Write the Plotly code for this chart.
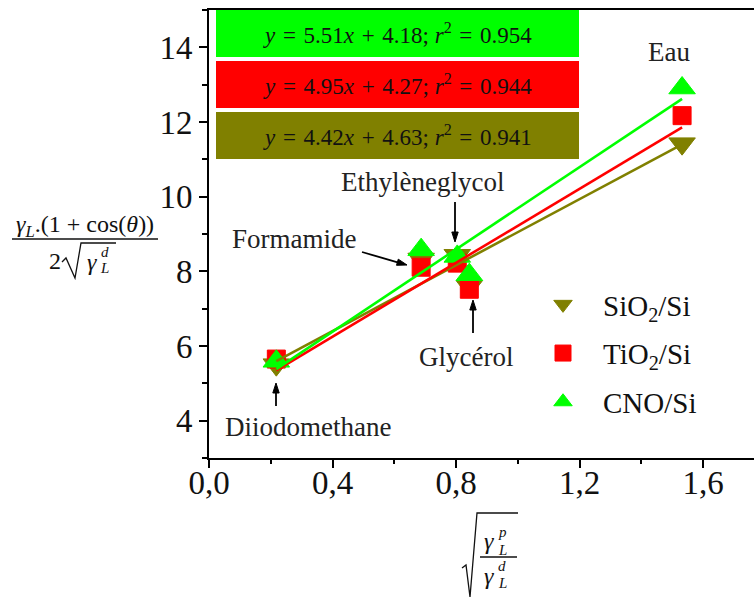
import math
import plotly.graph_objects as go

# ---------------- data ----------------
liquids = ["Diiodomethane", "Formamide", "Ethylèneglycol", "Glycérol", "Eau"]
x_vals = [0.218, 0.687, 0.804, 0.843, 1.532]
y_sio2 = [5.50, 8.33, 8.43, 7.60, 11.42]
y_tio2 = [5.65, 8.11, 8.22, 7.52, 12.17]
y_cno = [5.59, 8.58, 8.40, 7.91, 12.91]

series_names = ["SiO<sub>2</sub>/Si", "TiO<sub>2</sub>/Si", "CNO/Si"]
series_y = [y_sio2, y_tio2, y_cno]
colors = ["#808000", "#FF0000", "#00FF00"]
symbols = ["triangle-down", "square", "triangle-up"]
slopes = [4.42, 4.95, 5.51]
intercepts = [4.63, 4.27, 4.18]
r2_vals = [0.941, 0.944, 0.954]

x_ticks = [0.0, 0.4, 0.8, 1.2, 1.6]
x_ticktext = ["0,0", "0,4", "0,8", "1,2", "1,6"]
y_ticks = [4, 6, 8, 10, 12, 14]

# ---------------- geometry ----------------
W, H = 754, 599
ML, MR, MT, MB = 209, 0, 10, 141
PW, PH = W - ML - MR, H - MT - MB
X_PER_UNIT = 308.8
FONT = "Liberation Serif, Times New Roman, serif"


def px(x):
    return (x - ML) / PW


def py(y):
    return (MT + PH - y) / PH


fig = go.Figure()

# markers
for name, ys, c, sym in zip(series_names, series_y, colors, symbols):
    size = 18 if sym == "square" else 23
    fig.add_trace(go.Scatter(
        x=x_vals, y=ys, mode="markers", name=name,
        marker=dict(symbol=sym, size=size, color=c, line=dict(color=c, width=1)),
        text=liquids, legendgroup=name,
    ))

# fit lines from the equations shown in the chart
x_fit = [min(x_vals), max(x_vals)]
for name, c, a, b in zip(series_names, colors, slopes, intercepts):
    fig.add_trace(go.Scatter(
        x=x_fit, y=[a * xv + b for xv in x_fit], mode="lines",
        line=dict(color=c, width=2.6), showlegend=False, hoverinfo="skip",
    ))

shapes = []
annotations = []

# equation boxes (top: CNO, TiO2, SiO2)
boxes = [(2, 10, 57), (1, 61, 108), (0, 112, 159)]
hs = "&#8202;"
for idx, y0, y1 in boxes:
    shapes.append(dict(type="rect", xref="paper", yref="paper",
                       x0=px(216), x1=px(579), y0=py(y1), y1=py(y0),
                       fillcolor=colors[idx], line=dict(width=0), layer="above"))
    txt = (f"<i>y</i>{hs} ={hs} {slopes[idx]:.2f}<i>x</i>{hs} +{hs} {intercepts[idx]:.2f};"
           f" <i>r</i><sup>2</sup>{hs} ={hs} {r2_vals[idx]:.3f}")
    annotations.append(dict(xref="paper", yref="paper", x=px(397), y=py((y0 + y1) / 2),
                            text=txt, showarrow=False, xanchor="center", yanchor="middle",
                            font=dict(family=FONT, size=23, color="#111111")))

# liquid labels
label_pos = {"Eau": (669, 52), "Ethylèneglycol": (422, 182), "Formamide": (294, 239),
             "Glycérol": (466, 357), "Diiodomethane": (308, 427)}
for lab in liquids:
    cx, cy = label_pos[lab]
    annotations.append(dict(xref="paper", yref="paper", x=px(cx), y=py(cy), text=lab,
                            showarrow=False, xanchor="center", yanchor="middle",
                            font=dict(family=FONT, size=27, color="#222222")))

# arrows drawn as shapes: (head px), (tail px)
arrows = [((407, 265), (362, 252)), ((455, 242), (455, 202)),
          ((473, 300), (473, 333)), ((276, 383), (276, 406))]
for (hx, hy), (tx, ty) in arrows:
    dx, dy = hx - tx, hy - ty
    ln = math.hypot(dx, dy)
    ux, uy = dx / ln, dy / ln
    nx, ny = -uy, ux
    hl, hw = 10, 3.2
    bx, by = hx - ux * hl, hy - uy * hl
    shapes.append(dict(type="line", xref="paper", yref="paper",
                       x0=px(tx), y0=py(ty), x1=px(bx + ux * 2), y1=py(by + uy * 2),
                       line=dict(color="black", width=1.8)))
    shapes.append(dict(type="path", xref="paper", yref="paper",
                       path=(f"M {px(hx)},{py(hy)} L {px(bx + nx * hw)},{py(by + ny * hw)} "
                             f"L {px(bx - nx * hw)},{py(by - ny * hw)} Z"),
                       fillcolor="black", line=dict(color="black", width=1)))


def txt_ann(x, y, text, size, italic=False):
    t = f"<i>{text}</i>" if italic else text
    annotations.append(dict(xref="paper", yref="paper", x=px(x), y=py(y), text=t,
                            showarrow=False, xanchor="center", yanchor="middle",
                            font=dict(family=FONT, size=size, color="#111111")))


# ---- y-axis title: gamma_L.(1+cos(theta)) / (2 sqrt(gamma_L^d))
txt_ann(85, 226, "<i>γ</i><sub><i>L</i></sub>.(1 + cos(<i>θ</i>))", 24)
shapes.append(dict(type="line", xref="paper", yref="paper", x0=px(12), x1=px(158),
                   y0=py(239), y1=py(239), line=dict(color="#111111", width=1.5)))
txt_ann(55, 261, "2", 24)
shapes.append(dict(type="path", xref="paper", yref="paper",
                   path=f"M {px(62)},{py(262)} L {px(66)},{py(258)} L {px(75)},{py(278)} "
                        f"L {px(81)},{py(243)} L {px(116)},{py(243)}",
                   line=dict(color="#111111", width=1.3)))
txt_ann(92, 262, "γ", 24, True)
txt_ann(105, 252, "d", 15, True)
txt_ann(104, 268, "L", 15, True)

# ---- x-axis title: sqrt(gamma_L^p / gamma_L^d)
shapes.append(dict(type="path", xref="paper", yref="paper",
                   path=f"M {px(462)},{py(568)} L {px(466)},{py(565)} L {px(470)},{py(597)} "
                        f"L {px(477)},{py(513)} L {px(518)},{py(513)}",
                   line=dict(color="#111111", width=1.3)))
shapes.append(dict(type="line", xref="paper", yref="paper", x0=px(480), x1=px(517),
                   y0=py(557), y1=py(557), line=dict(color="#111111", width=1.3)))
txt_ann(489, 541, "γ", 24, True)
txt_ann(502, 532, "p", 15, True)
txt_ann(502, 550, "L", 15, True)
txt_ann(489, 576, "γ", 24, True)
txt_ann(502, 566, "d", 15, True)
txt_ann(502, 583, "L", 15, True)

axis_common = dict(showline=True, linecolor="black", linewidth=2, showgrid=False,
                   zeroline=False, ticks="outside", ticklen=8, tickwidth=2,
                   tickcolor="black", tickfont=dict(family=FONT, size=33, color="#111111"))

fig.update_layout(
    width=W, height=H,
    margin=dict(l=ML, r=MR, t=MT, b=MB, pad=0),
    plot_bgcolor="white", paper_bgcolor="white",
    font=dict(family=FONT),
    xaxis=dict(range=[0, PW / X_PER_UNIT], tickvals=x_ticks, ticktext=x_ticktext,
               mirror=True, ticklabelstandoff=-14,
               minor=dict(dtick=0.2, tick0=0, ticks="outside", ticklen=4, tickwidth=2,
                          tickcolor="black"),
               **axis_common),
    yaxis=dict(range=[3, 15], tickvals=y_ticks,
               minor=dict(dtick=1, tick0=3, ticks="outside", ticklen=5, tickwidth=2,
                          tickcolor="black"),
               **axis_common),
    legend=dict(x=px(523), y=py(279), xanchor="left", yanchor="top",
                bgcolor="rgba(255,255,255,0)", font=dict(family=FONT, size=29, color="#111111"),
                tracegroupgap=8, itemsizing="trace", itemwidth=70),
    shapes=shapes, annotations=annotations,
    showlegend=True,
)

fig.write_html("out.html", config={"displayModeBar": False},
               post_script="document.body.style.margin='0px';document.body.style.overflow='hidden';")
